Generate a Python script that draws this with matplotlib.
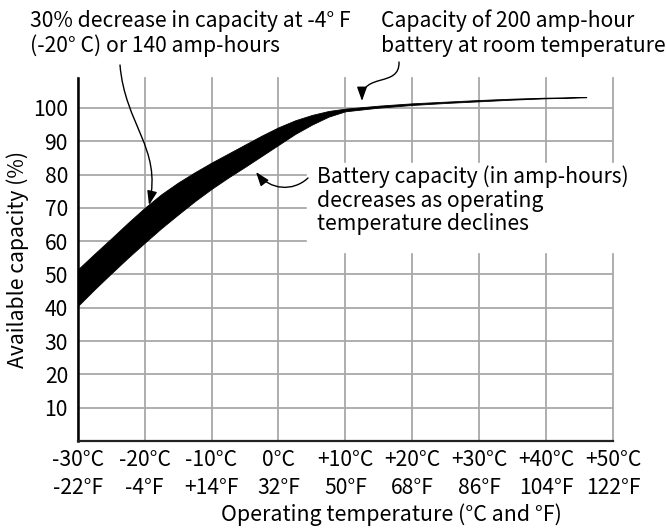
import matplotlib
matplotlib.use('Agg')
import matplotlib.pyplot as plt
from matplotlib.patches import FancyArrowPatch, Rectangle
from matplotlib.path import Path

plt.rcParams['font.family'] = ['Noto Sans CJK SC', 'DejaVu Sans']

# values
temp_c = [-30, -27.5, -25, -22.5, -20, -17.5, -15, -12.5, -10, -7.5, -5, -2.5, 0, 2.5, 5, 7.5,
          10, 15, 20, 25, 30, 35, 40, 46]
cap_upper = [51.5, 56.2, 60.8, 65.5, 70.0, 74.1, 77.6, 80.7, 83.6, 86.3, 89.0, 91.7, 94.2, 96.3, 97.9, 99.1,
             99.8, 100.7, 101.4, 101.9, 102.4, 102.8, 103.1, 103.3]
cap_lower = [40.5, 45.5, 50.3, 55.0, 59.5, 63.9, 68.0, 72.0, 75.7, 79.1, 82.3, 85.6, 88.9, 92.2, 95.0, 97.4,
             99.0, 100.1, 100.9, 101.5, 102.0, 102.5, 102.9, 103.2]

x_ticks = [-30, -20, -10, 0, 10, 20, 30, 40, 50]
x_labels = ['-30°C\n-22°F', '-20°C\n-4°F', '-10°C\n+14°F', '0°C\n32°F', '+10°C\n50°F',
            '+20°C\n68°F', '+30°C\n86°F', '+40°C\n104°F', '+50°C\n122°F']
y_ticks = [10, 20, 30, 40, 50, 60, 70, 80, 90, 100]

W, H = 667, 528
fig = plt.figure(figsize=(W / 100, H / 100), dpi=100)


def fpx(x, y):
    # figure pixel (from top-left) -> figure fraction
    return (x / W, 1 - y / H)


ax = fig.add_axes([77.7 / W, 1 - 441 / H, (613 - 77.7) / W, (441 - 78) / H])
ax.fill_between(temp_c, cap_lower, cap_upper, color='black', lw=0.6, zorder=3)
ax.set_xlim(-30, 50)
ax.set_ylim(0, 109)

fs = 15.2
ax.set_xticks(x_ticks)
ax.set_xticklabels(x_labels, fontsize=fs, linespacing=1.35)
ax.set_yticks(y_ticks)
ax.set_yticklabels([str(v) for v in y_ticks], fontsize=fs)
ax.tick_params(axis='both', length=0, colors='black')
ax.tick_params(axis='x', pad=6)
ax.tick_params(axis='y', pad=7)

ax.grid(True, color='#a8a8a8', lw=1.3, zorder=1)
for gl in ax.get_xgridlines():
    gl.set_clip_on(False)
ax.set_axisbelow(True)

for s in ['top', 'right']:
    ax.spines[s].set_visible(False)
ax.spines['left'].set_linewidth(1.8)
ax.spines['bottom'].set_linewidth(1.6)
ax.spines['bottom'].set_color('#222222')

ax.set_ylabel('Available capacity (%)', fontsize=fs)
ax.yaxis.set_label_coords(-0.112, 0.5)
ax.yaxis.label.set_va('center')
ax.set_xlabel('Operating temperature (°C and °F)', fontsize=15.4)
ax.xaxis.set_label_coords(0.587, -0.204)
ax.xaxis.label.set_va('center')

# white box behind the right-hand note
fig.add_artist(Rectangle(fpx(307, 252), (620 - 307) / W, (252 - 163) / H,
                         transform=fig.transFigure, color='white', zorder=2))

fig.text(*fpx(30, 27), '30% decrease in capacity at -4° F', fontsize=fs, va='baseline')
fig.text(*fpx(30, 52), '(-20° C) or 140 amp-hours', fontsize=fs, va='baseline')
fig.text(*fpx(381, 27), 'Capacity of 200 amp-hour', fontsize=fs, va='baseline')
fig.text(*fpx(381, 52), 'battery at room temperature', fontsize=fs, va='baseline')
fig.text(*fpx(317, 183), 'Battery capacity (in amp-hours)', fontsize=fs, va='baseline', zorder=3)
fig.text(*fpx(317, 207), 'decreases as operating', fontsize=fs, va='baseline', zorder=3)
fig.text(*fpx(317, 230), 'temperature declines', fontsize=fs, va='baseline', zorder=3)

arrows = [
    [(120, 65), (125, 125), (162, 148), (149, 205)],
    [(399, 62), (400, 88), (362, 72), (362, 101)],
    [(308, 178), (293, 192), (270, 190), (256, 172)],
]
for pts in arrows:
    verts = [fpx(*p) for p in pts]
    path = Path(verts, [Path.MOVETO, Path.CURVE4, Path.CURVE4, Path.CURVE4])
    arr = FancyArrowPatch(path=path, arrowstyle='-|>,head_length=0.7,head_width=0.25',
                          mutation_scale=12, lw=1.0, color='black',
                          transform=fig.transFigure, zorder=4)
    fig.add_artist(arr)

plt.savefig('out.png', dpi=100)
